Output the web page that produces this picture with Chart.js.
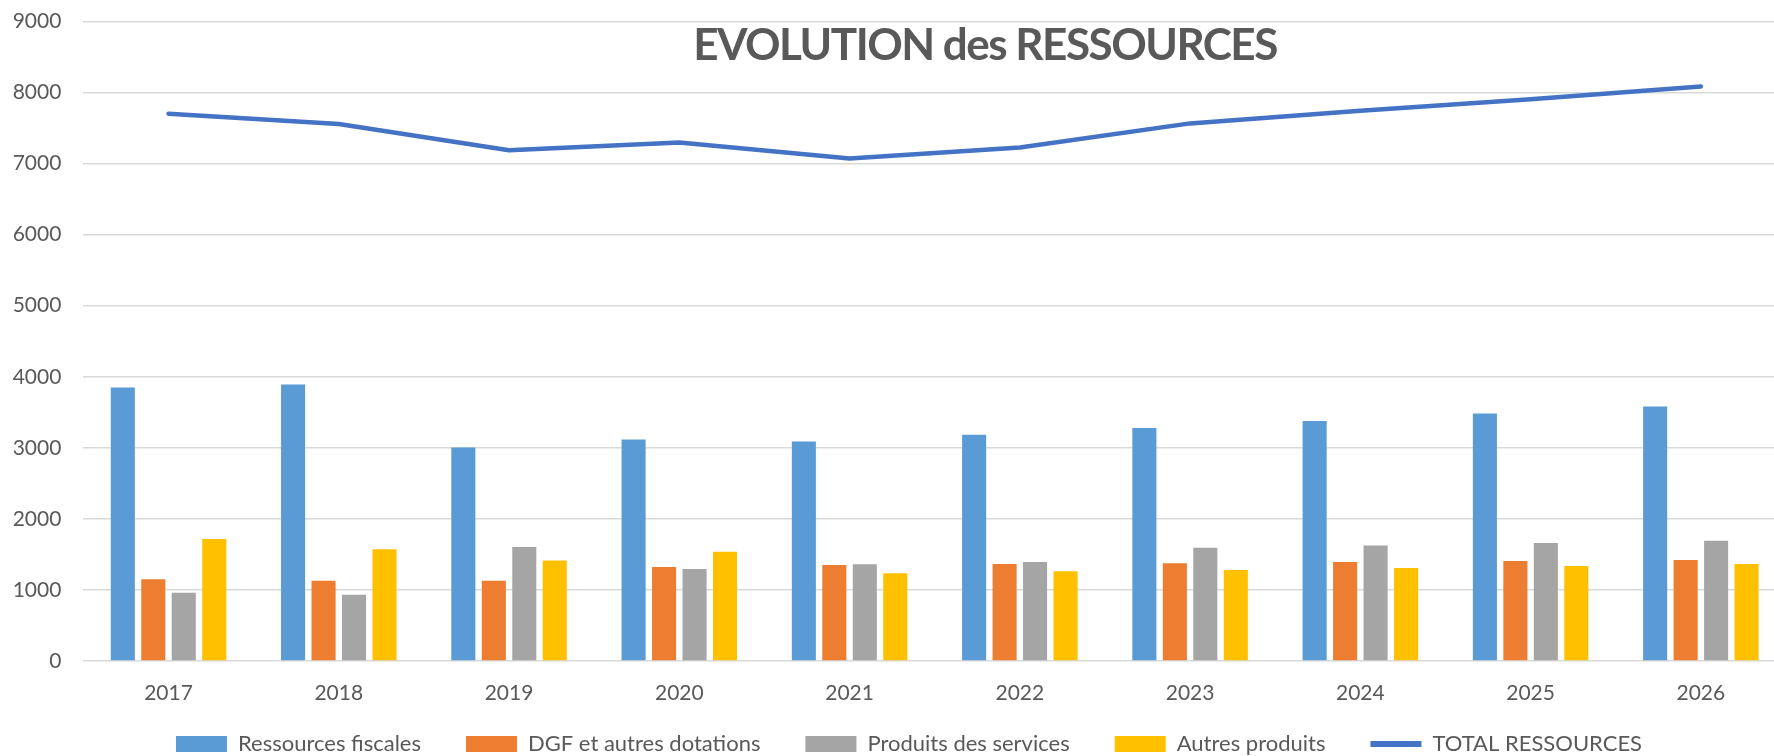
<!DOCTYPE html>
<html lang="fr">
<head>
<meta charset="utf-8">
<title>EVOLUTION des RESSOURCES</title>
<script src="https://cdn.jsdelivr.net/npm/chart.js@4.4.1/dist/chart.umd.min.js"></script>
<style>
  html, body { margin: 0; padding: 0; background: #fff; }
  .chart-wrap { position: relative; width: 1774px; height: 756px; overflow: hidden; }
  #resChart { position: absolute; left: 0; top: 0; }
  .chart-title {
    position: absolute; left: 985px; top: 21px; transform: translateX(-50%);
    margin: 0; font: bold 44px Lato, sans-serif; color: #595959;
    letter-spacing: -1.5px; white-space: nowrap; line-height: 1;
  }
</style>
</head>
<body>
<div class="chart-wrap">
  <canvas id="resChart" width="1800" height="756"></canvas>
  <h1 class="chart-title">EVOLUTION des RESSOURCES</h1>
</div>
<script>
// Data
const years = ['2017', '2018', '2019', '2020', '2021', '2022', '2023', '2024', '2025', '2026'];
const ressourcesFiscales = [3850, 3893, 3006, 3118, 3090, 3183, 3278, 3376, 3484, 3583];
const dgfDotations = [1149, 1130, 1130, 1322, 1350, 1364, 1374, 1393, 1407, 1421];
const produitsServices = [961, 933, 1603, 1294, 1360, 1392, 1594, 1627, 1660, 1693];
const autresProduits = [1716, 1571, 1416, 1538, 1234, 1262, 1280, 1308, 1337, 1365];
const totalRessources = [7703, 7557, 7189, 7297, 7071, 7226, 7566, 7745, 7906, 8085];
const yTicks = [0, 1000, 2000, 3000, 4000, 5000, 6000, 7000, 8000, 9000];

const textColor = '#595959';
const gridColor = '#D9D9D9';

Chart.defaults.font.family = 'Lato, sans-serif';
Chart.defaults.font.size = 21;
Chart.defaults.color = textColor;

// Legend: short box so the plot keeps its height, painted a bit higher and to the right
const legendTweak = {
  id: 'legendTweak',
  beforeInit(chart) {
    const legend = chart.legend;
    const fit = legend.fit;
    legend.fit = function () {
      fit.call(this);
      this.height = 49;
    };
    const draw = legend.draw;
    legend.draw = function () {
      if (!this.options.display) return;
      const c = this.ctx;
      c.save();
      c.translate(10.5, -19);
      if (typeof this._draw === 'function') this._draw();
      else draw.call(this);
      c.restore();
    };
  }
};

function barSet(label, data, color) {
  return {
    type: 'bar',
    label: label,
    data: data,
    backgroundColor: color,
    borderWidth: 0,
    categoryPercentage: 0.716,
    barPercentage: 0.79
  };
}

const ctx = document.getElementById('resChart').getContext('2d');
const resChart = new Chart(ctx, {
  data: {
    labels: years,
    datasets: [
      barSet('Ressources fiscales', ressourcesFiscales, '#5B9BD5'),
      barSet('DGF et autres dotations', dgfDotations, '#ED7D31'),
      barSet('Produits des services', produitsServices, '#A5A5A5'),
      barSet('Autres produits', autresProduits, '#FFC000'),
      {
        type: 'line',
        label: 'TOTAL RESSOURCES',
        data: totalRessources,
        borderColor: '#4472C4',
        backgroundColor: '#4472C4',
        borderWidth: 4.5,
        borderCapStyle: 'round',
        borderJoinStyle: 'round',
        pointRadius: 0,
        tension: 0
      }
    ]
  },
  options: {
    responsive: false,
    animation: false,
    devicePixelRatio: 1,
    layout: { padding: { left: 11, right: 14, top: 21.5, bottom: 0 } },
    plugins: {
      title: { display: false },
      tooltip: { enabled: false },
      legend: {
        position: 'bottom',
        labels: {
          usePointStyle: true,
          pointStyleWidth: 51,
          boxHeight: 16,
          padding: 45,
          color: textColor,
          font: { size: 22 },
          generateLabels(chart) {
            const items = Chart.defaults.plugins.legend.labels.generateLabels(chart);
            items.forEach((item) => {
              const ds = chart.data.datasets[item.datasetIndex];
              item.pointStyle = ds.type === 'line' ? 'line' : 'rect';
              if (ds.type === 'line') item.lineWidth = 6;
            });
            return items;
          }
        }
      }
    },
    scales: {
      x: {
        grid: { display: false, drawTicks: false },
        border: { display: false },
        ticks: { padding: 20, color: textColor },
        afterFit(scale) { scale.height = 46; }
      },
      y: {
        min: 0,
        max: 9000,
        afterBuildTicks(scale) { scale.ticks = yTicks.map(v => ({ value: v })); },
        afterFit(scale) {
          scale.width = 72.4;
          scale.paddingTop = 0;
        },
        grid: { color: gridColor, lineWidth: 1.5, drawTicks: false },
        border: { display: false },
        ticks: {
          padding: 22,
          color: textColor,
          callback: (value) => String(value)
        }
      }
    }
  },
  plugins: [legendTweak]
});
</script>
</body>
</html>
